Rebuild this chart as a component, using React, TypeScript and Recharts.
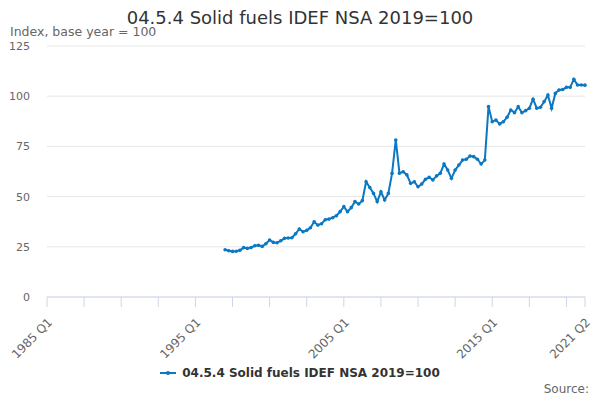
import React from "react";
import { LineChart, Line, XAxis, YAxis, CartesianGrid } from "recharts";

const FONT = '"DejaVu Sans", "Lucida Grande", sans-serif';
const BLUE = "#0a78c2";

const title = "04.5.4 Solid fuels IDEF NSA 2019=100";
const subtitle = "Index, base year = 100";
const seriesName = "04.5.4 Solid fuels IDEF NSA 2019=100";

// x axis runs 1985 Q1 .. 2021 Q2, one slot per quarter
const firstYear = 1985;
const lastSlot = 145;
const tickSlots = [0, 10, 20, 30, 40, 50, 60, 70, 80, 90, 100, 110, 120, 130, 140, 145];
const labelSlots = [0, 40, 80, 120, 145];
const yTicks = [0, 25, 50, 75, 100, 125];

// series starts at 1997 Q1 (slot 48)
const startSlot = 48;
const values = [
  23.5, 23.0, 22.7, 22.8, 23.3, 24.6, 24.2, 24.6, 25.5, 25.8, 25.2, 26.5,
  28.4, 27.2, 27.0, 28.0, 29.2, 29.4, 29.5, 31.5, 33.9, 32.5, 33.2, 34.5,
  37.5, 35.8, 36.5, 38.5, 38.8, 39.5, 40.5, 42.5, 45.0, 42.5, 44.5, 47.5,
  46.3, 48.0, 57.4, 54.5, 51.6, 47.5, 52.4, 48.3, 51.6, 61.6, 78.2, 61.6,
  62.4, 60.8, 56.6, 57.4, 54.9, 56.3, 58.6, 59.6, 58.3, 60.3, 61.6, 66.2,
  63.2, 59.1, 63.2, 65.7, 68.2, 68.6, 70.2, 69.9, 68.6, 66.2, 68.2, 94.8,
  87.3, 88.1, 86.2, 87.3, 89.5, 93.1, 91.8, 94.8, 91.8, 92.8, 94.0, 98.5,
  94.0, 94.5, 97.3, 100.6, 94.0, 101.4, 103.1, 103.3, 104.4, 104.4, 108.4, 105.6,
  105.6, 105.5,
];

const quarterLabel = (slot: number) =>
  `${firstYear + Math.floor(slot / 4)} Q${(slot % 4) + 1}`;

const data = values.map((v, k) => ({
  slot: startSlot + k,
  quarter: quarterLabel(startSlot + k),
  value: v,
}));

const XTick = (props: any) => {
  const { x, y, payload } = props;
  if (!labelSlots.includes(payload.value)) return null;
  return (
    <text
      x={0}
      y={0}
      transform={`translate(${x + 6},${y + 14}) rotate(-45)`}
      textAnchor="end"
      fill="#666666"
      fontSize={12}
      fontFamily={FONT}
    >
      {quarterLabel(payload.value)}
    </text>
  );
};

export default function App() {
  return (
    <div
      style={{
        position: "absolute",
        left: 0,
        top: 0,
        width: 600,
        height: 400,
        background: "#ffffff",
        fontFamily: FONT,
      }}
    >
      <div
        style={{
          position: "absolute",
          top: 7,
          left: 0,
          width: 600,
          textAlign: "center",
          fontSize: 18,
          color: "#333333",
        }}
      >
        {title}
      </div>
      <div
        style={{
          position: "absolute",
          top: 24,
          left: 10,
          fontSize: 12.5,
          color: "#666666",
        }}
      >
        {subtitle}
      </div>

      <LineChart
        width={600}
        height={400}
        data={data}
        margin={{ top: 46, right: 15, bottom: 43, left: 0 }}
      >
        <CartesianGrid vertical={false} stroke="#e6e6e6" />
        <XAxis
          type="number"
          dataKey="slot"
          domain={[0, lastSlot]}
          ticks={tickSlots}
          interval={0}
          height={60}
          stroke="#ccd6eb"
          tickSize={10}
          tick={<XTick />}
        />
        <YAxis
          domain={[0, 125]}
          ticks={yTicks}
          width={47}
          axisLine={false}
          tickLine={false}
          tickSize={0}
          tickMargin={17}
          tick={{ fill: "#666666", fontSize: 11, fontFamily: FONT }}
        />
        <Line
          type="linear"
          dataKey="value"
          stroke={BLUE}
          strokeWidth={2}
          dot={{ r: 1.8, fill: BLUE, stroke: "none" }}
          isAnimationActive={false}
        />
      </LineChart>

      <div
        style={{
          position: "absolute",
          top: 366,
          left: 0,
          width: 600,
          display: "flex",
          justifyContent: "center",
          alignItems: "center",
          fontSize: 12,
          fontWeight: "bold",
          color: "#333333",
        }}
      >
        <svg width={16} height={10} style={{ marginRight: 6 }}>
          <line x1={0} y1={5} x2={16} y2={5} stroke={BLUE} strokeWidth={2} />
          <circle cx={8} cy={5} r={2} fill={BLUE} />
        </svg>
        {seriesName}
      </div>
      <div
        style={{
          position: "absolute",
          top: 382,
          right: 11,
          fontSize: 12,
          color: "#666666",
        }}
      >
        Source:
      </div>
    </div>
  );
}
